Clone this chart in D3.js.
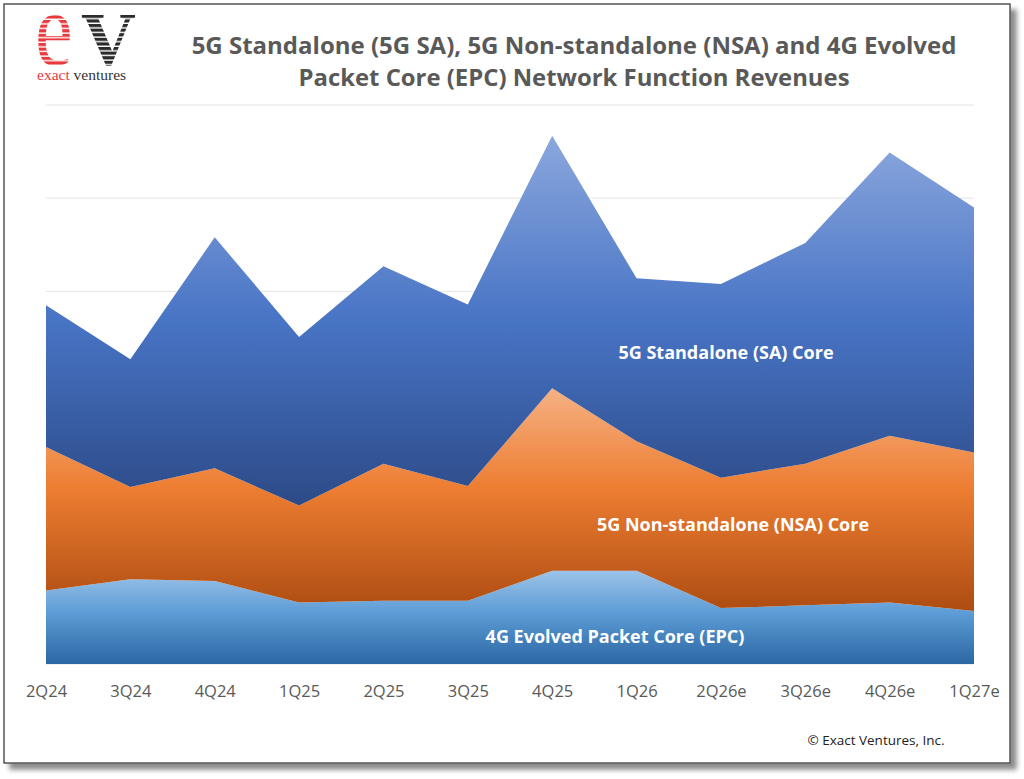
<!DOCTYPE html>
<html>
<head>
<meta charset="utf-8">
<script src="https://cdn.jsdelivr.net/npm/d3@7"></script>
<style>
  body { margin: 0; background: #fff; }
  svg { display: block; }
</style>
</head>
<body>
<svg id="chart" width="1024" height="779"></svg>
<script>
// Quarters on the x axis
const quarters = ["2Q24", "3Q24", "4Q24", "1Q25", "2Q25", "3Q25", "4Q25", "1Q26", "2Q26e", "3Q26e", "4Q26e", "1Q27e"];

// Revenue per layer (relative units)
const epc = [79, 91, 89, 66, 68, 68, 100, 100, 60, 63, 66, 57];
const nsa = [154, 99, 121, 104, 147, 123, 196, 139, 140, 152, 179, 170];
const sa  = [152, 137, 248, 181, 212, 195, 271, 175, 208, 237, 304, 263];

const gridTicks = [0, 100, 200, 300, 400, 500, 600];

const width = 1024, height = 779;
const margin = { left: 46, right: 50, top: 105, bottom: 115 };

const svg = d3.select("#chart");
const defs = svg.append("defs");

// Drop shadow for the frame
const shadow = defs.append("filter").attr("id", "shadow")
  .attr("x", "-5%").attr("y", "-5%").attr("width", "110%").attr("height", "110%");
shadow.append("feDropShadow")
  .attr("dx", 6).attr("dy", 6).attr("stdDeviation", 2.5)
  .attr("flood-color", "#000").attr("flood-opacity", 0.45);

svg.append("rect")
  .attr("x", 4).attr("y", 4).attr("width", 1006).attr("height", 759)
  .attr("fill", "#fff").attr("stroke", "#555").attr("stroke-width", 1.5)
  .attr("filter", "url(#shadow)");

// Vertical gradients for the three layers
const addGradient = (id, stops) => {
  const g = defs.append("linearGradient").attr("id", id)
    .attr("x1", 0).attr("y1", 0).attr("x2", 0).attr("y2", 1);
  stops.forEach(([o, c]) => g.append("stop").attr("offset", o).attr("stop-color", c));
};
addGradient("gSA", [[0, "#8ba7dd"], [0.5, "#4874c5"], [1, "#2c4a87"]]);
addGradient("gNSA", [[0, "#f5b184"], [0.45, "#ed7d31"], [1, "#ad4c12"]]);
addGradient("gEPC", [[0, "#9cc3e8"], [0.45, "#5d9cd6"], [1, "#2b67a3"]]);

// Scales
const x = d3.scalePoint().domain(quarters).range([margin.left, width - margin.right]);
const y = d3.scaleLinear().domain([0, 600]).range([height - margin.bottom, margin.top]);

// Gridlines
svg.append("g").selectAll("line")
  .data(gridTicks)
  .join("line")
  .attr("x1", margin.left).attr("x2", width - margin.right)
  .attr("y1", d => y(d)).attr("y2", d => y(d))
  .attr("stroke", "#e4e4e4").attr("stroke-width", 1);

// Stack the series
const rows = quarters.map((q, i) => ({ q, epc: epc[i], nsa: nsa[i], sa: sa[i] }));
const stack = d3.stack().keys(["epc", "nsa", "sa"]);
const series = stack(rows);
const fills = { epc: "url(#gEPC)", nsa: "url(#gNSA)", sa: "url(#gSA)" };

const area = d3.area()
  .x(d => x(d.data.q))
  .y0(d => y(d[0]))
  .y1(d => y(d[1]));

svg.append("g").selectAll("path")
  .data(series)
  .join("path")
  .attr("d", area)
  .attr("fill", d => fills[d.key]);

// Shrink a text element horizontally if it is wider than the target
const fit = (sel, w) => {
  sel.each(function() {
    if (this.getComputedTextLength() > w) {
      d3.select(this).attr("textLength", w).attr("lengthAdjust", "spacingAndGlyphs");
    }
  });
};

const font = "'Open Sans', 'Noto Sans', sans-serif";

// Layer labels
const labels = [
  { text: "5G Standalone (SA) Core", cx: 726, cy: 359, w: 233 },
  { text: "5G Non-standalone (NSA) Core", cx: 733, cy: 531, w: 293 },
  { text: "4G Evolved Packet Core (EPC)", cx: 615, cy: 643, w: 279 }
];
svg.append("g").selectAll("text")
  .data(labels)
  .join("text")
  .attr("x", d => d.cx).attr("y", d => d.cy)
  .attr("text-anchor", "middle")
  .attr("font-family", font).attr("font-weight", 700).attr("font-size", 18)
  .attr("fill", "#fff")
  .text(d => d.text)
  .each(function(d) { fit(d3.select(this), d.w); });

// X axis labels
const xAxis = svg.append("g")
  .attr("transform", `translate(0, ${height - margin.bottom + 33})`)
  .call(d3.axisBottom(x).tickSize(0).tickPadding(0));
xAxis.select(".domain").remove();
xAxis.selectAll("text")
  .attr("font-family", font).attr("font-size", 16.5).attr("fill", "#595959")
  .attr("dy", 0)
  .each(function() { fit(d3.select(this), this.textContent.length > 4 ? 54 : 45); });

// Title
const titleLines = [
  { text: "5G Standalone (5G SA), 5G Non-standalone (NSA) and 4G Evolved", y: 54, w: 783 },
  { text: "Packet Core (EPC) Network Function Revenues", y: 86, w: 551 }
];
svg.append("g").selectAll("text")
  .data(titleLines)
  .join("text")
  .attr("x", 574).attr("y", d => d.y)
  .attr("text-anchor", "middle")
  .attr("font-family", font).attr("font-weight", 700).attr("font-size", 24)
  .attr("fill", "#595959")
  .text(d => d.text)
  .each(function(d) { fit(d3.select(this), d.w); });

// Copyright
svg.append("text")
  .attr("x", 876).attr("y", 745)
  .attr("text-anchor", "middle")
  .attr("font-family", font).attr("font-size", 13.5).attr("fill", "#222")
  .text("© Exact Ventures, Inc.")
  .call(fit, 142);

// Logo: striped "e" and "V"
const stripes = (id, color) => {
  const p = defs.append("pattern").attr("id", id)
    .attr("patternUnits", "userSpaceOnUse").attr("width", 10).attr("height", 4.6)
    .attr("y", 1);
  p.append("rect").attr("width", 10).attr("height", 4.6).attr("fill", color);
  p.append("rect").attr("y", 3.2).attr("width", 10).attr("height", 1.4).attr("fill", "#fff");
};
stripes("stripeRed", "#e8393d");
stripes("stripeDark", "#2b2b2b");

const serif = "'Liberation Serif', 'DejaVu Serif', serif";
const logo = svg.append("g");
logo.append("text")
  .attr("transform", "translate(35, 65) scale(0.8, 1)")
  .attr("font-family", serif)
  .attr("font-size", 106).attr("fill", "url(#stripeRed)")
  .text("e");
logo.append("text")
  .attr("x", 81).attr("y", 65)
  .attr("font-family", serif).attr("font-weight", 700)
  .attr("font-size", 76).attr("fill", "url(#stripeDark)")
  .text("V");
const logoText = logo.append("text")
  .attr("x", 37).attr("y", 80)
  .attr("font-family", serif)
  .attr("font-size", 15.5);
logoText.append("tspan").attr("fill", "#e8393d").text("exact ");
logoText.append("tspan").attr("fill", "#333").text("ventures");
</script>
</body>
</html>
